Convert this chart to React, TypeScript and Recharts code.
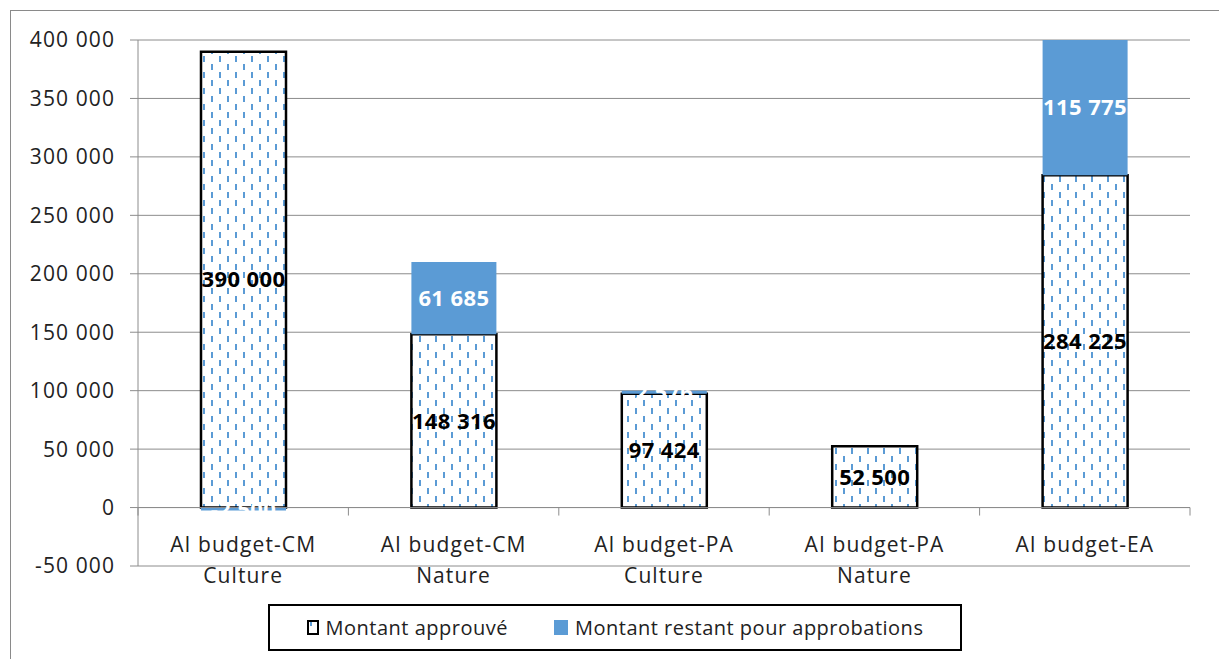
import React from 'react';
import { BarChart, Bar, XAxis, YAxis, CartesianGrid, ReferenceLine, Legend, LabelList } from 'recharts';

// categories (label lines)
const categories = [
  ['AI budget-CM', 'Culture'],
  ['AI budget-CM', 'Nature'],
  ['AI budget-PA', 'Culture'],
  ['AI budget-PA', 'Nature'],
  ['AI budget-EA'],
];
const approved = [390000, 148316, 97424, 52500, 284225];
const remaining = [-2500, 61685, 2576, 0, 115775];
const yTicks = [-50000, 0, 50000, 100000, 150000, 200000, 250000, 300000, 350000, 400000];

const BLUE = '#5B9BD5';
const GRID = '#8c8c8c';
const TEXT = '#222';
const FONT = '"Open Sans", "Noto Sans", sans-serif';

const data = categories.map((lines, i) => ({
  name: lines.join('\n'),
  approved: approved[i],
  remaining: remaining[i],
}));

const fmt = (v: any) => {
  const n = Number(v);
  const s = Math.abs(Math.round(n)).toString().replace(/\B(?=(\d{3})+(?!\d))/g, ' ');
  return (n < 0 ? '-' : '') + s;
};

const CategoryTick = (props: any) => {
  const { x, y, payload } = props;
  const lines = String(payload.value).split('\n');
  return (
    <text x={x} y={y} textAnchor="middle" fill={TEXT} fontSize={21} fontFamily={FONT} letterSpacing={1.1}>
      {lines.map((l, i) => (
        <tspan key={i} x={x} y={y - 14 + i * 31}>{l}</tspan>
      ))}
    </text>
  );
};

// zero line acts as the category axis, with tick marks between categories
const ZeroAxis = (props: any) => {
  const { x1, x2, y1 } = props;
  const n = categories.length;
  const step = (x2 - x1) / n;
  return (
    <g>
      <line x1={x1} x2={x2} y1={y1} y2={y1} stroke={GRID} strokeWidth={1} />
      {Array.from({ length: n + 1 }, (_, i) => (
        <line key={i} x1={x1 + i * step} x2={x1 + i * step} y1={y1} y2={y1 + 8} stroke={GRID} strokeWidth={1} />
      ))}
    </g>
  );
};

const LegendBox = (props: any) => {
  const { payload = [] } = props;
  return (
    <div style={{
      boxSizing: 'border-box', width: 694, height: 47, border: '2px solid #000', background: '#fff',
      display: 'flex', alignItems: 'center', justifyContent: 'center', gap: 46,
      fontFamily: FONT, fontSize: 20, color: TEXT, letterSpacing: 0.5,
    }}>
      {payload.map((entry: any, i: number) => (
        <div key={i} style={{ display: 'flex', alignItems: 'center', gap: 7 }}>
          {entry.dataKey === 'approved' ? (
            <svg width={12} height={15}>
              <rect x={1} y={1} width={10} height={13} fill="url(#dashVert)" stroke="#000" strokeWidth={2} />
            </svg>
          ) : (
            <svg width={14} height={15}>
              <rect x={0} y={0} width={14} height={15} fill={BLUE} />
            </svg>
          )}
          <span>{entry.value}</span>
        </div>
      ))}
    </div>
  );
};

export default function App() {
  return (
    <div style={{ position: 'absolute', left: 0, top: 0, width: 1219, height: 659, overflow: 'hidden', background: '#fff' }}>
      <svg width={0} height={0} style={{ position: 'absolute' }}>
        <defs>
          <pattern id="dashVert" patternUnits="userSpaceOnUse" width={16} height={16}>
            <rect x={0} y={0} width={16} height={16} fill="#fff" />
            <rect x={3} y={0} width={2} height={6} fill={BLUE} />
            <rect x={11} y={8} width={2} height={6} fill={BLUE} />
          </pattern>
        </defs>
      </svg>
      <div style={{ position: 'absolute', left: 10, top: 10, width: 1300, height: 700, border: '1px solid #8a8a8a' }} />
      <div style={{ position: 'absolute', left: 0, top: 0 }}>
        <BarChart
          width={1219}
          height={659}
          data={data}
          stackOffset="sign"
          margin={{ top: 40, right: 29, bottom: 63, left: 38 }}
        >
          <CartesianGrid vertical={false} stroke={GRID} strokeWidth={1} />
          <XAxis
            dataKey="name"
            height={30}
            axisLine={false}
            tickLine={false}
            tickSize={0}
            tickMargin={0}
            interval={0}
            tick={<CategoryTick />}
          />
          <YAxis
            width={100}
            domain={[-50000, 400000]}
            ticks={yTicks}
            interval={0}
            tickFormatter={fmt}
            axisLine={{ stroke: GRID }}
            tickLine={{ stroke: GRID }}
            tickSize={8}
            tickMargin={15}
            tick={{ fill: TEXT, fontSize: 21, fontFamily: FONT, letterSpacing: 1.1 }}
          />
          <ReferenceLine y={0} shape={<ZeroAxis />} />
          <Legend
            layout="horizontal"
            verticalAlign="middle"
            align="center"
            content={<LegendBox />}
            wrapperStyle={{ left: 268, top: 604, width: 694, height: 47 }}
          />
          <Bar
            dataKey="approved"
            name="Montant approuvé"
            stackId="a"
            barSize={85}
            fill="url(#dashVert)"
            stroke="#000"
            strokeWidth={2.5}
            isAnimationActive={false}
          >
            <LabelList
              dataKey="approved"
              position="center"
              formatter={fmt}
              fill="#000"
              fontSize={22}
              fontWeight="bold"
              fontFamily={FONT}
              letterSpacing={0.4}
            />
          </Bar>
          <Bar
            dataKey="remaining"
            name="Montant restant pour approbations"
            stackId="a"
            barSize={85}
            fill={BLUE}
            isAnimationActive={false}
          >
            <LabelList
              dataKey="remaining"
              position="center"
              formatter={fmt}
              fill="#fff"
              fontSize={22}
              fontWeight="bold"
              fontFamily={FONT}
              letterSpacing={0.4}
            />
          </Bar>
        </BarChart>
      </div>
    </div>
  );
}
